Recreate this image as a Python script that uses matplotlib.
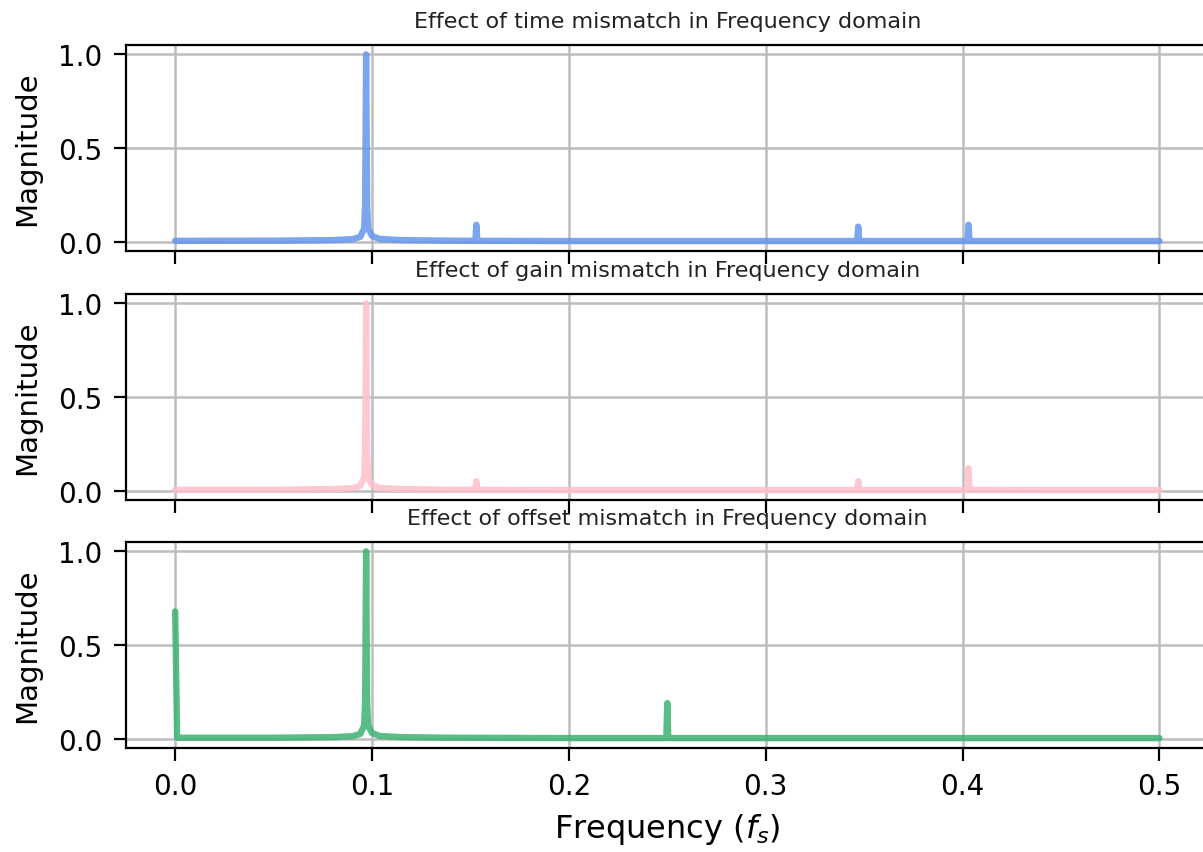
import matplotlib
matplotlib.use("Agg")
import matplotlib.pyplot as plt

# spectrum samples (frequency in units of fs, normalised magnitude)
time_freq = [0.0, 0.05, 0.08, 0.09, 0.094, 0.096, 0.0965, 0.097, 0.0975, 0.098,
             0.100, 0.104, 0.115, 0.14, 0.1525, 0.153, 0.1535, 0.2, 0.3,
             0.3465, 0.347, 0.3475, 0.4025, 0.403, 0.4035, 0.45, 0.5]
time_mag = [0.004, 0.005, 0.008, 0.013, 0.025, 0.07, 0.2, 1.0, 0.2, 0.07,
            0.03, 0.014, 0.008, 0.005, 0.004, 0.09, 0.004, 0.003, 0.003,
            0.003, 0.08, 0.003, 0.003, 0.09, 0.003, 0.003, 0.003]

gain_freq = [0.0, 0.05, 0.08, 0.09, 0.094, 0.096, 0.0965, 0.097, 0.0975, 0.098,
             0.100, 0.104, 0.115, 0.14, 0.1525, 0.153, 0.1535, 0.2, 0.3,
             0.3465, 0.347, 0.3475, 0.4025, 0.403, 0.4035, 0.45, 0.5]
gain_mag = [0.004, 0.005, 0.008, 0.013, 0.025, 0.07, 0.2, 1.0, 0.2, 0.07,
            0.03, 0.014, 0.008, 0.005, 0.004, 0.05, 0.004, 0.003, 0.003,
            0.003, 0.05, 0.003, 0.003, 0.12, 0.004, 0.003, 0.003]

offset_freq = [0.0, 0.001, 0.05, 0.08, 0.09, 0.094, 0.096, 0.0965, 0.097, 0.0975,
               0.098, 0.100, 0.104, 0.115, 0.14, 0.2, 0.2495, 0.25, 0.2505,
               0.3, 0.4, 0.5]
offset_mag = [0.68, 0.005, 0.005, 0.008, 0.013, 0.025, 0.07, 0.2, 1.0, 0.2,
              0.07, 0.03, 0.014, 0.008, 0.005, 0.003, 0.003, 0.19, 0.003,
              0.003, 0.003, 0.003]

titles = ["Effect of time mismatch in Frequency domain",
          "Effect of gain mismatch in Frequency domain",
          "Effect of offset mismatch in Frequency domain"]
colors = ["cornflowerblue", "pink", "mediumseagreen"]

fig = plt.figure(figsize=(12.03, 8.53), dpi=100)
bottoms = [0.7046, 0.4127, 0.1219]
height = 0.2415
axes = []
for i, b in enumerate(bottoms):
    ax = fig.add_axes([0.1047, b, 0.90, height], sharex=axes[0] if axes else None)
    axes.append(ax)

series = [(time_freq, time_mag), (gain_freq, gain_mag), (offset_freq, offset_mag)]
for ax, (f, m), c, t in zip(axes, series, colors, titles):
    ax.plot(f, m, color=c, lw=4.6, alpha=0.85, solid_capstyle="round")
    ax.set_title(t, fontsize=16, pad=13, color="#222222")
    ax.set_ylabel("Magnitude", fontsize=21, labelpad=12)
    ax.grid(True, color="#bdbdbd", lw=1.8)
    ax.set_axisbelow(True)
    ax.set_yticks([0.0, 0.5, 1.0])
    ax.set_ylim(-0.05, 1.05)
    ax.tick_params(labelsize=20, length=9, width=1.6, pad=8)
    for s in ax.spines.values():
        s.set_linewidth(1.6)
    if ax is not axes[-1]:
        ax.tick_params(labelbottom=False)

axes[-1].set_xlim(-0.025, 0.525)
axes[-1].set_xticks([0.0, 0.1, 0.2, 0.3, 0.4, 0.5])
axes[-1].set_xlabel("Frequency ($f_s$)", fontsize=23, labelpad=8)

fig.savefig("out.png", dpi=100)
